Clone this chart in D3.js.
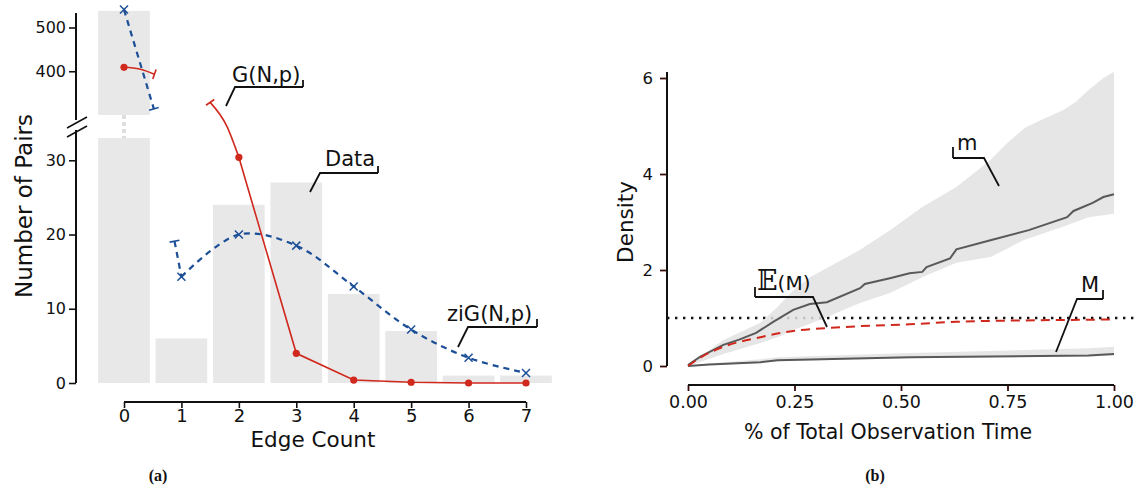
<!DOCTYPE html>
<html>
<head>
<meta charset="utf-8">
<script src="https://cdn.jsdelivr.net/npm/d3@7"></script>
<style>
  body { margin: 0; background: #fff; }
  svg text { font-family: "DejaVu Sans", Roboto, sans-serif; fill: #111; }
</style>
</head>
<body>
<svg id="chart" width="1138" height="491"></svg>
<script>
// ---- panel (a) data ----
const edgeCount = [0, 1, 2, 3, 4, 5, 6, 7];
const pairCounts = [538, 6, 24, 27, 12, 7, 1, 1];
// G(N,p) expectation, split in the broken-axis pieces
const gnpUpper = [[0, 409], [0.27, 405], [0.53, 393]];
const gnpLead = [[1.5, 37.8], [1.79, 34.6], [2, 30.4]];
const gnpLower = [[2, 30.4], [3, 4], [4, 0.4], [5, 0.1], [6, 0], [7, 0]];
// zero inflated G(N,p)
const zigUpper = [[0, 541], [0.52, 314]];
const zigLead = [[0.88, 19.1], [1, 14.3]];
const zigLower = [[1, 14.3], [2, 20], [3, 18.5], [4, 13], [5, 7.2], [6, 3.4], [7, 1.35]];
const lowTicks = [0, 10, 20, 30];
const highTicks = [400, 500];

// ---- panel (b) data ----
const timeTicks = [0, 0.25, 0.5, 0.75, 1];
const densityTicks = [0, 2, 4, 6];
const mTime = [0, 0.028, 0.083, 0.12, 0.16, 0.2, 0.247, 0.286, 0.326, 0.404, 0.415, 0.474, 0.52, 0.55, 0.56, 0.615, 0.63, 0.71, 0.8, 0.89, 0.905, 0.95, 0.975, 1];
const mMean = [0.02, 0.19, 0.44, 0.55, 0.69, 0.92, 1.17, 1.29, 1.33, 1.62, 1.71, 1.83, 1.93, 1.96, 2.06, 2.24, 2.43, 2.62, 2.83, 3.1, 3.23, 3.4, 3.52, 3.58];
const bandTime = [0, 0.083, 0.17, 0.21, 0.247, 0.286, 0.326, 0.404, 0.474, 0.55, 0.63, 0.71, 0.75, 0.79, 0.83, 0.88, 0.91, 0.94, 0.975, 1];
const mUpper = [0, 0.54, 0.9, 1.23, 1.58, 1.85, 2.04, 2.42, 2.83, 3.31, 3.73, 4.29, 4.65, 4.96, 5.13, 5.33, 5.5, 5.75, 6.0, 6.13];
const mLower = [0, 0.25, 0.48, 0.6, 0.75, 0.88, 1.02, 1.31, 1.52, 1.85, 2.15, 2.27, 2.45, 2.63, 2.75, 2.9, 3.0, 3.1, 3.14, 3.17];
const emTime = [0, 0.028, 0.083, 0.17, 0.247, 0.326, 0.404, 0.52, 0.63, 0.79, 0.9, 1];
const emVal = [0, 0.17, 0.4, 0.6, 0.73, 0.79, 0.83, 0.87, 0.92, 0.95, 0.96, 0.97];
const bigMTime = [0, 0.05, 0.17, 0.21, 0.52, 0.71, 0.94, 1];
const bigMVal = [0, 0.03, 0.08, 0.12, 0.18, 0.2, 0.22, 0.25];
const bigMUpper = [0, 0.05, 0.14, 0.18, 0.27, 0.31, 0.37, 0.4];
const bigMLower = [0, 0.02, 0.06, 0.1, 0.16, 0.18, 0.2, 0.22];
const refDensity = 1;

const red = "#d0281c", blue = "#1c4f97", barGrey = "#e8e8e8", tickRed = "#3a0b0b";

const svg = d3.select("#chart");

// ================= panel (a) =================
const x = d3.scaleLinear().domain([0, 7]).range([124, 526]);
const yLo = d3.scaleLinear().domain([0, 33]).range([383, 138]);
const yHi = d3.scaleLinear().domain([300, 540]).range([115, 10]);
const barW = (x(1) - x(0)) * 0.9;

const a = svg.append("g");

// bars: every bar in the lower piece, tall bar continues in the upper piece
a.selectAll("rect.lo").data(pairCounts).enter().append("rect")
  .attr("x", (d, i) => x(edgeCount[i]) - barW / 2)
  .attr("y", d => yLo(Math.min(d, 33)))
  .attr("width", barW)
  .attr("height", d => yLo(0) - yLo(Math.min(d, 33)))
  .attr("fill", barGrey);
a.selectAll("rect.hi").data(pairCounts.filter(d => d > 33)).enter().append("rect")
  .attr("x", (d, i) => x(edgeCount[i]) - barW / 2)
  .attr("y", d => yHi(d))
  .attr("width", barW)
  .attr("height", d => yHi(300) - yHi(d))
  .attr("fill", barGrey);
a.append("line")
  .attr("x1", x(0)).attr("x2", x(0))
  .attr("y1", yHi(300)).attr("y2", yLo(33))
  .attr("stroke", "#dedede").attr("stroke-width", 4).attr("stroke-dasharray", "4,3");

// lines
function cap(g, pts, atStart, color) {
  const p = atStart ? pts[0] : pts[pts.length - 1];
  const q = atStart ? pts[1] : pts[pts.length - 2];
  const dx = p[0] - q[0], dy = p[1] - q[1], L = Math.hypot(dx, dy);
  const nx = -dy / L * 5, ny = dx / L * 5;
  g.append("line")
    .attr("x1", p[0] - nx).attr("y1", p[1] - ny)
    .attr("x2", p[0] + nx).attr("y2", p[1] + ny)
    .attr("stroke", color).attr("stroke-width", 1.6);
}
function piece(data, ys, color, width, dash, curve, capStart, capEnd) {
  const pts = data.map(d => [x(d[0]), ys(d[1])]);
  a.append("path")
    .attr("d", d3.line().curve(curve)(pts))
    .attr("fill", "none").attr("stroke", color)
    .attr("stroke-width", width).attr("stroke-dasharray", dash);
  if (capStart) cap(a, pts, true, color);
  if (capEnd) cap(a, pts, false, color);
}
piece(zigUpper, yHi, blue, 2.2, "6,5", d3.curveLinear, false, true);
piece(zigLead, yLo, blue, 2.2, "6,5", d3.curveLinear, true, false);
piece(zigLower, yLo, blue, 2.2, "6,5", d3.curveCatmullRom, false, false);
piece(gnpUpper, yHi, red, 1.6, null, d3.curveMonotoneX, false, true);
piece(gnpLead, yLo, red, 1.6, null, d3.curveMonotoneX, true, false);
piece(gnpLower, yLo, red, 1.6, null, d3.curveLinear, false, false);

// markers
const zigPts = [[zigUpper[0][0], yHi(zigUpper[0][1])]]
  .concat(zigLower.map(d => [d[0], yLo(d[1])]));
a.selectAll("path.cross").data(zigPts).enter().append("path")
  .attr("transform", d => `translate(${x(d[0])},${d[1]})`)
  .attr("d", "M-4,-4L4,4M-4,4L4,-4")
  .attr("stroke", blue).attr("stroke-width", 1.5);
const gnpPts = [[gnpUpper[0][0], yHi(gnpUpper[0][1])]]
  .concat(gnpLower.map(d => [d[0], yLo(d[1])]));
a.selectAll("circle.dot").data(gnpPts).enter().append("circle")
  .attr("cx", d => x(d[0])).attr("cy", d => d[1]).attr("r", 3.6)
  .attr("fill", red);

// axes
const axLo = a.append("g").attr("transform", "translate(76,0)")
  .call(d3.axisLeft(yLo).tickValues(lowTicks).tickSize(7).tickPadding(3));
const axHi = a.append("g").attr("transform", "translate(76,0)")
  .call(d3.axisLeft(yHi).tickValues(highTicks).tickSize(7).tickPadding(3));
[axLo, axHi].forEach(g => {
  g.select(".domain").remove();
  g.selectAll("text").style("font-size", "16px").attr("fill", "#111");
  g.selectAll("line").attr("stroke", "#111").attr("stroke-width", 1.6);
});
a.append("line").attr("x1", 76).attr("x2", 76).attr("y1", 13).attr("y2", 120)
  .attr("stroke", "#111").attr("stroke-width", 2);
a.append("line").attr("x1", 76).attr("x2", 76).attr("y1", 130).attr("y2", yLo(0))
  .attr("stroke", "#111").attr("stroke-width", 2);
a.append("line").attr("x1", 67).attr("y1", 128).attr("x2", 87).attr("y2", 117)
  .attr("stroke", "#111").attr("stroke-width", 1.5);
a.append("line").attr("x1", 67).attr("y1", 137).attr("x2", 87).attr("y2", 126)
  .attr("stroke", "#111").attr("stroke-width", 1.5);

const axX = a.append("g").attr("transform", "translate(0,402)")
  .call(d3.axisBottom(x).tickValues(edgeCount).tickFormat(d3.format("d")).tickSize(6).tickPadding(1));
axX.select(".domain").remove();
axX.selectAll("text").style("font-size", "18px").attr("fill", "#111");
axX.selectAll("line").attr("stroke", "#111").attr("stroke-width", 1.6);
a.append("line").attr("x1", x(0)).attr("x2", x(7)).attr("y1", 402).attr("y2", 402)
  .attr("stroke", "#111").attr("stroke-width", 2);

a.append("text").attr("x", x(3.29)).attr("y", 447)
  .attr("text-anchor", "middle").style("font-size", "21.5px").text("Edge Count");
a.append("text").attr("transform", "translate(32,206) rotate(-90)")
  .attr("text-anchor", "middle").style("font-size", "23px").text("Number of Pairs");

// ================= panel (b) =================
const xr = d3.scaleLinear().domain([0, 1]).range([688, 1114]);
const yr = d3.scaleLinear().domain([0, 6]).range([366, 78]);
const b = svg.append("g");

b.append("line").attr("x1", 667).attr("x2", 1138)
  .attr("y1", yr(refDensity)).attr("y2", yr(refDensity))
  .attr("stroke", "#111").attr("stroke-width", 2.4).attr("stroke-dasharray", "2.4,5.6");

const band = d3.area().x(d => xr(d[0])).y0(d => yr(d[1])).y1(d => yr(d[2]));
b.append("path").attr("d", band(bandTime.map((t, i) => [t, mLower[i], mUpper[i]])))
  .attr("fill", "#e2e2e2").attr("fill-opacity", 0.85);
b.append("path").attr("d", band(bigMTime.map((t, i) => [t, bigMLower[i], bigMUpper[i]])))
  .attr("fill", "#e2e2e2").attr("fill-opacity", 0.85);

const ln = d3.line().x(d => xr(d[0])).y(d => yr(d[1]));
b.append("path").attr("d", ln(mTime.map((t, i) => [t, mMean[i]])))
  .attr("fill", "none").attr("stroke", "#595959").attr("stroke-width", 2);
b.append("path").attr("d", ln(bigMTime.map((t, i) => [t, bigMVal[i]])))
  .attr("fill", "none").attr("stroke", "#595959").attr("stroke-width", 2);
b.append("path").attr("d", ln.curve(d3.curveMonotoneX)(emTime.map((t, i) => [t, emVal[i]])))
  .attr("fill", "none").attr("stroke", red).attr("stroke-width", 2)
  .attr("stroke-dasharray", "9,6");

const ayr = b.append("g").attr("transform", "translate(667,0)")
  .call(d3.axisLeft(yr).tickValues(densityTicks).tickFormat(d3.format("d")).tickSize(7).tickPadding(7));
ayr.select(".domain").remove();
ayr.selectAll("text").style("font-size", "16.5px").attr("fill", "#111");
ayr.selectAll("line").attr("stroke", tickRed).attr("stroke-width", 1.8);
b.append("line").attr("x1", 667).attr("x2", 667).attr("y1", 72).attr("y2", 366)
  .attr("stroke", "#111").attr("stroke-width", 2);

const axr = b.append("g").attr("transform", "translate(0,385)")
  .call(d3.axisBottom(xr).tickValues(timeTicks).tickFormat(d3.format(".2f")).tickSize(6).tickPadding(5));
axr.select(".domain").remove();
axr.selectAll("text").style("font-size", "17.5px").attr("fill", "#111");
axr.selectAll("line").attr("stroke", tickRed).attr("stroke-width", 1.8);
b.append("line").attr("x1", xr(0)).attr("x2", xr(1)).attr("y1", 385).attr("y2", 385)
  .attr("stroke", "#111").attr("stroke-width", 2);

b.append("text").attr("x", 888).attr("y", 439)
  .attr("text-anchor", "middle").style("font-size", "20.5px").text("% of Total Observation Time");
b.append("text").attr("transform", "translate(633,222) rotate(-90)")
  .attr("text-anchor", "middle").style("font-size", "21.5px").text("Density");

// ================= call-out labels =================
function callout(parts, tx, ty, line, tick, fs) {
  const t = svg.append("text").attr("x", tx).attr("y", ty).style("font-size", fs + "px");
  parts.forEach(p => {
    const s = t.append("tspan").text(p.text);
    if (p.style) s.attr("style", p.style);
  });
  svg.append("path").attr("d", d3.line()(line))
    .attr("fill", "none").attr("stroke", "#111").attr("stroke-width", 1.8);
  svg.append("path").attr("d", d3.line()(tick))
    .attr("fill", "none").attr("stroke", "#111").attr("stroke-width", 1.8);
}
callout([{ text: "G(N,p)" }], 232, 82, [[226, 106], [235, 87], [303, 87]], [[303, 87], [303, 80]], 21);
callout([{ text: "Data" }], 325, 166, [[310, 192], [320, 173], [378, 173]], [[378, 173], [378, 166]], 21);
callout([{ text: "ziG(N,p)" }], 447, 321, [[458, 347], [468, 327], [537, 327]], [[537, 327], [537, 319]], 21);
callout([{ text: "m" }], 957, 150, [[999, 186], [984, 158], [953, 158]], [[953, 158], [953, 147]], 21);
callout([{ text: "\u{1D53C}", style: "font-family:'DejaVu Serif','DejaVu Sans';font-size:27px" }, { text: "(M)", style: "font-size:20px" }],
  757, 290, [[827, 327], [813, 297], [755, 297]], [[755, 297], [755, 287]], 21);
callout([{ text: "M" }], 1081, 292, [[1056, 352], [1077, 299], [1103, 299]], [[1103, 299], [1103, 290]], 21);

// captions
svg.append("text").attr("x", 158).attr("y", 481).attr("text-anchor", "middle")
  .style("font-family", "'Liberation Serif', serif").style("font-weight", "bold").style("font-size", "16px").text("(a)");
svg.append("text").attr("x", 875).attr("y", 481).attr("text-anchor", "middle")
  .style("font-family", "'Liberation Serif', serif").style("font-weight", "bold").style("font-size", "16px").text("(b)");
</script>
</body>
</html>
